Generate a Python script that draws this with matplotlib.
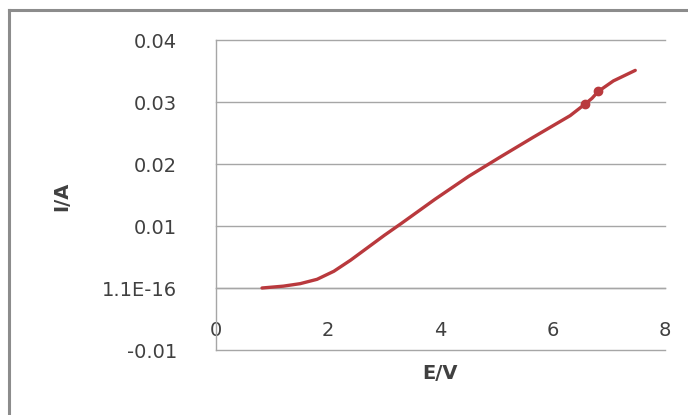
import matplotlib
matplotlib.use("Agg")
import matplotlib.pyplot as plt
from matplotlib.lines import Line2D

E_values = [0.82, 1.2, 1.5, 1.8, 2.1, 2.4, 2.7, 3.0, 3.3, 3.9, 4.5, 5.06, 5.65, 6.31, 6.58, 6.70, 6.81, 7.08, 7.47]
I_values = [0.0, 0.0003, 0.0007, 0.0014, 0.0027, 0.0045, 0.0065, 0.0085, 0.0104, 0.0143, 0.0180, 0.0211, 0.0243, 0.0278, 0.0297, 0.0306, 0.0317, 0.0334, 0.0351]
marker_E = [6.58, 6.81]
marker_I = [0.0297, 0.0317]

x_ticks = [0, 2, 4, 6, 8]
x_tick_labels = ["0", "2", "4", "6", "8"]
y_ticks = [-0.01, 0.0, 0.01, 0.02, 0.03, 0.04]
y_tick_labels = ["-0.01", "1.1E-16", "0.01", "0.02", "0.03", "0.04"]

line_color = "#b9393d"
grid_color = "#a6a6a6"
text_color = "#404040"

fig = plt.figure(figsize=(6.88, 4.15), dpi=100)
ax = fig.add_axes([216/688, 1-350/415, (665-216)/688, (350-40)/415])

ax.plot(E_values, I_values, color=line_color, lw=2.4, solid_capstyle="round",
        solid_joinstyle="round", zorder=3)
ax.plot(marker_E, marker_I, ls="none", marker="o", ms=6, color=line_color, zorder=4)

ax.set_xlim(0, 8)
ax.set_ylim(-0.01, 0.04)
ax.set_yticks(y_ticks)
ax.set_yticklabels(y_tick_labels)
ax.set_xticks(x_ticks)
ax.set_xticklabels(x_tick_labels)

for y in y_ticks:
    ax.axhline(y, color=grid_color, lw=1.0, zorder=1, clip_on=False)

for s in ["top", "right"]:
    ax.spines[s].set_visible(False)
ax.spines["left"].set_color(grid_color)
ax.spines["left"].set_linewidth(1.0)
ax.spines["bottom"].set_position(("data", 0))
ax.spines["bottom"].set_color(grid_color)
ax.spines["bottom"].set_linewidth(1.0)

ax.tick_params(axis="y", length=0, pad=28, labelsize=14, labelcolor=text_color)
ax.tick_params(axis="x", length=0, pad=24, labelsize=14, labelcolor=text_color)

fig.text(440/688, 1-373/415, "E/V", ha="center", va="center", fontsize=14,
         fontweight="bold", color=text_color)
fig.text(62/688, 1-196/415, "I/A", ha="center", va="center", fontsize=14,
         fontweight="bold", color=text_color, rotation=90)

# outer chart frame (left and top edges visible)
fig.add_artist(Line2D([9/688, 9/688], [0, 1-10/415], transform=fig.transFigure,
                      color="#8c8c8c", lw=2.2))
fig.add_artist(Line2D([9/688, 1], [1-10/415, 1-10/415], transform=fig.transFigure,
                      color="#8c8c8c", lw=2.2))

fig.savefig("out.png", dpi=100)
